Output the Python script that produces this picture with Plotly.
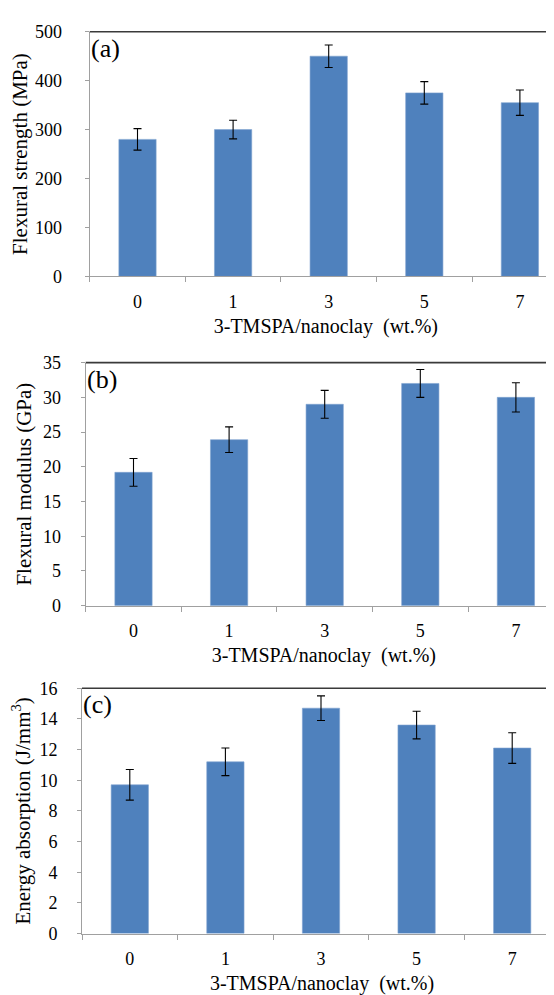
import plotly.graph_objects as go

categories = ["0", "1", "3", "5", "7"]

strength = [280, 300, 450, 375, 355]
strength_err = [22, 19, 23, 23, 26]

modulus = [19.2, 23.9, 29.0, 32.0, 30.0]
modulus_err = [2.0, 1.85, 2.0, 2.0, 2.1]

energy = [9.7, 11.2, 14.7, 13.6, 12.1]
energy_err = [1.0, 0.9, 0.8, 0.9, 1.0]

y_titles = ["Flexural strength (MPa)", "Flexural modulus (GPa)",
            "Energy absorption (J/mm<sup>3</sup>)"]
panel_labels = ["(a)", "(b)", "(c)"]
x_title = "3-TMSPA/nanoclay&nbsp;&nbsp;(wt.%)"

W, H = 554, 995
FONT = "Liberation Serif, Times New Roman, serif"
BAR = "#4F81BD"
AXIS = "#A0A0A0"

# plot-area geometry in pixels (left, top, bottom)
panels = [
    dict(left=81.7, top=14.0, bottom=263.7, ymax=500, dtick=100, y=strength, e=strength_err, ystand=19),
    dict(left=77.7, top=351.7, bottom=599.7, ymax=35, dtick=5, y=modulus, e=modulus_err, ystand=16),
    dict(left=74.0, top=684.0, bottom=934.3, ymax=16, dtick=2, y=energy, e=energy_err, ystand=16),
]
step = 95.6

fig = go.Figure()
for i, p in enumerate(panels):
    n = "" if i == 0 else str(i + 1)
    fig.add_trace(go.Bar(
        x=categories, y=p["y"],
        marker=dict(color=BAR, line=dict(color="#7FA3D0", width=0.6)),
        error_y=dict(type="data", array=p["e"], visible=True,
                     color="black", thickness=1.1, width=4),
        xaxis="x" + n, yaxis="y" + n, showlegend=False,
    ))
    xr = -0.5 + (W - p["left"]) / step
    fig.layout["xaxis" + n] = dict(
        domain=[p["left"] / W, 1], anchor="y" + n, type="category",
        range=[-0.5, xr], tickson="boundaries", ticks="outside", ticklen=5,
        tickcolor=AXIS, showline=True, linecolor=AXIS, linewidth=1,
        showgrid=False, zeroline=False, ticklabelstandoff=9,
        tickfont=dict(family=FONT, size=18, color="black"),
        title=dict(text=x_title, font=dict(family=FONT, size=20, color="black"),
                   standoff=7),
    )
    fig.layout["yaxis" + n] = dict(
        domain=[(H - p["bottom"]) / H, (H - p["top"]) / H], anchor="x" + n,
        range=[0, p["ymax"]], dtick=p["dtick"], ticks="outside", ticklen=4,
        tickcolor=AXIS, showline=True, linecolor=AXIS, linewidth=1,
        showgrid=False, zeroline=False, ticklabelstandoff=p["ystand"],
        tickfont=dict(family=FONT, size=18, color="black"),
        title=dict(text=y_titles[i], font=dict(family=FONT, size=21, color="black"),
                   standoff=5),
    )
    fig.add_shape(type="line", xref="x" + n + " domain", yref="y" + n + " domain",
                  x0=0, x1=1, y0=1, y1=1, line=dict(color="#3A3A3A", width=1.6))
    fig.add_annotation(text=panel_labels[i], xref="x" + n + " domain",
                       yref="y" + n + " domain", x=0, y=1, xanchor="left",
                       yanchor="top", xshift=-1, yshift=0, showarrow=False,
                       font=dict(family=FONT, size=26, color="black"))

fig.update_layout(
    width=W, height=H, margin=dict(l=0, r=0, t=0, b=0),
    paper_bgcolor="white", plot_bgcolor="white", bargap=0.61,
    font=dict(family=FONT, color="black"),
)
fig.write_html("out.html")
